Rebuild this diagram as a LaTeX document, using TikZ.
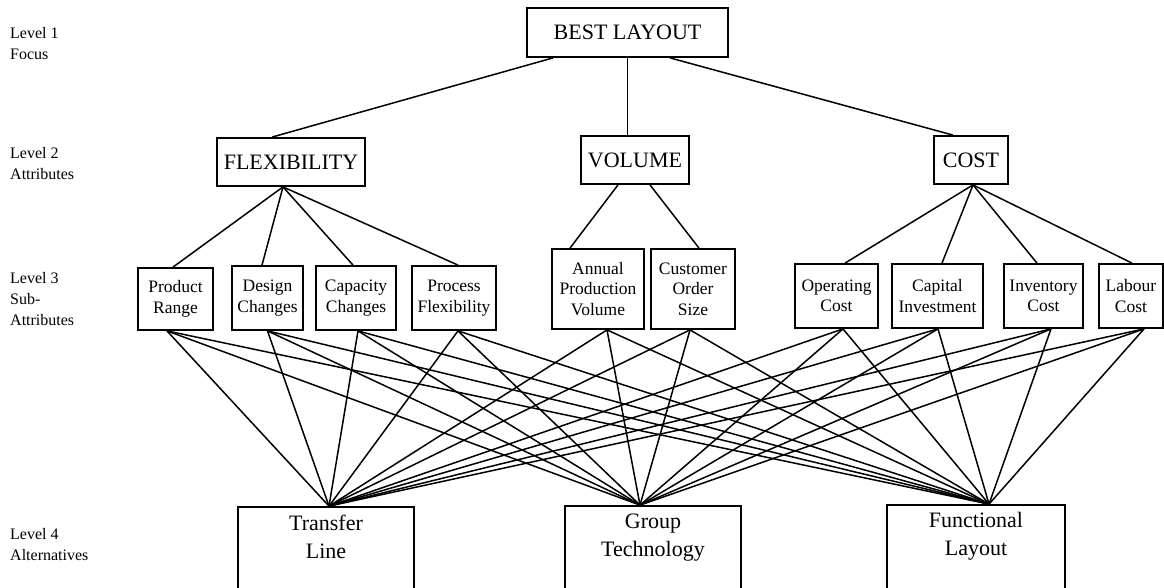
\documentclass[tikz,border=0pt]{standalone}
\usepackage{fontspec}
\setmainfont{Liberation Serif}
\begin{document}
\begin{tikzpicture}[x=1pt,y=-1pt,
  box/.style={draw, line width=1.8pt, inner sep=0pt, align=center},
  big/.style={font=\fontsize{22}{26}\selectfont},
  sub/.style={font=\fontsize{17.5}{20.5}\selectfont},
  alt/.style={font=\fontsize{22}{28}\selectfont},
  lvl/.style={anchor=north west, inner sep=0pt, align=left, font=\fontsize{16}{21}\selectfont},
  link/.style={line width=1.5pt}]
\useasboundingbox (0,0) rectangle (1164,587);
\clip (0,0) rectangle (1164,587);

% level captions
\node[lvl] (cap1) at (10,27)  {Level 1\\Focus};
\node[lvl] (cap2) at (10,147) {Level 2\\Attributes};
\node[lvl] (cap3) at (10,272) {Level 3\\Sub-\\Attributes};
\node[lvl] (cap4) at (10,528) {Level 4\\Alternatives};

% level 1 and 2
\node[box,big,minimum width=201pt,minimum height=49pt] (best) at (627.5,32.5) {BEST LAYOUT};
\node[box,big,minimum width=148pt,minimum height=48pt] (flex) at (291,162) {FLEXIBILITY};
\node[box,big,minimum width=108pt,minimum height=48pt] (vol)  at (635,160) {VOLUME};
\node[box,big,minimum width=74pt,minimum height=48pt]  (cost) at (971,160) {COST};

% level 3
\node[box,sub,minimum width=75pt,minimum height=62pt] (pr)  at (175.5,299) {Product\\Range};
\node[box,sub,minimum width=71pt,minimum height=64pt] (dc)  at (267.5,298) {Design\\Changes};
\node[box,sub,minimum width=80pt,minimum height=64pt] (cc)  at (356,298)   {Capacity\\Changes};
\node[box,sub,minimum width=84pt,minimum height=64pt] (pf)  at (454,298)   {Process\\Flexibility};
\node[box,sub,minimum width=92pt,minimum height=80pt] (apv) at (598,289)   {Annual\\Production\\Volume};
\node[box,sub,minimum width=84pt,minimum height=80pt] (cos) at (693,289)   {Customer\\Order\\Size};
\node[box,sub,minimum width=83pt,minimum height=64pt] (oc)  at (836.5,296) {Operating\\Cost};
\node[box,sub,minimum width=91pt,minimum height=64pt] (ci)  at (937.5,296) {Capital\\Investment};
\node[box,sub,minimum width=79pt,minimum height=64pt] (ic)  at (1043.5,296){Inventory\\Cost};
\node[box,sub,minimum width=64pt,minimum height=64pt] (lc)  at (1131,296)  {Labour\\Cost};

% level 4 (boxes run past the lower edge)
\node[box,alt,minimum width=176pt,minimum height=95pt] (tl) at (326,554.5) {Transfer\\Line\\\strut};
\node[box,alt,minimum width=176pt,minimum height=95pt] (gt) at (653,553.5) {Group\\Technology\\\strut};
\node[box,alt,minimum width=178pt,minimum height=95pt] (fl) at (976,552.5) {Functional\\Layout\\\strut};

% meeting points of the connectors
\coordinate (best-l) at ([xshift=-74.5pt]best.south);
\coordinate (best-r) at ([xshift=42.5pt]best.south);
\coordinate (flex-t) at ([xshift=-19pt]flex.north);
\coordinate (cost-t) at ([xshift=-18pt]cost.north);
\coordinate (flex-b) at ([xshift=-8pt]flex.south);
\coordinate (vol-bl) at ([xshift=-17pt]vol.south);
\coordinate (vol-br) at ([xshift=15pt]vol.south);
\coordinate (cost-b) at ([xshift=2pt]cost.south);
\coordinate (tl-t) at ([xshift=3pt]tl.north);
\coordinate (gt-t) at ([xshift=-13pt]gt.north);
\coordinate (fl-t) at ([xshift=13pt]fl.north);

% focus to attributes
\draw[link] (best-l) -- (flex-t);
\draw[link] (best.south) -- (vol.north -| best.south);
\draw[link] (best-r) -- (cost-t);

% attributes to sub-attributes
\foreach \n/\s in {pr/-2.5, dc/-5.5, cc/-3, pf/4}
  \draw[link] (flex-b) -- ([xshift=\s pt]\n.north);
\draw[link] (vol-bl) -- ([xshift=-28pt]apv.north);
\draw[link] (vol-br) -- ([xshift=6pt]cos.north);
\foreach \n/\s in {oc/8.5, ci/4.5, ic/-6.5, lc/1}
  \draw[link] (cost-b) -- ([xshift=\s pt]\n.north);

% every sub-attribute to every alternative
\foreach \n/\s in {pr/-8.5, dc/0, cc/2, pf/4, apv/9, cos/-3, oc/6.5, ci/0.5, ic/7.5, lc/13}
  \foreach \t in {tl-t, gt-t, fl-t}
    \draw[link] ([xshift=\s pt]\n.south) -- (\t);
\end{tikzpicture}
\end{document}
